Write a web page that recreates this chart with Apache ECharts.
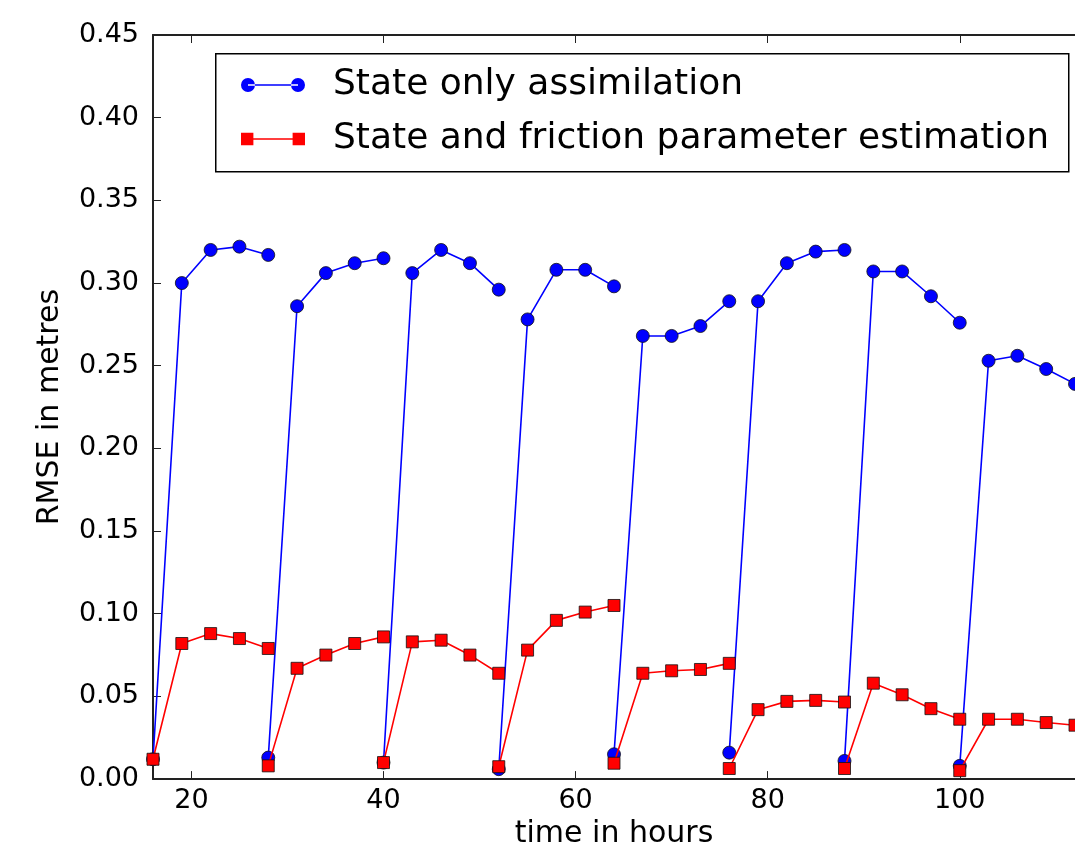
<!DOCTYPE html>
<html>
<head>
<meta charset="utf-8">
<script src="https://cdn.jsdelivr.net/npm/echarts@6/dist/echarts.min.js"></script>
<style>
html,body{margin:0;padding:0;background:#fff;}
#chart{width:1075px;height:854px;}
</style>
</head>
<body>
<div id="chart"></div>
<script>
// Time (hours) of each point; each assimilation cycle has 5 points
const hours = [
  16,19,22,25,28,
  28,31,34,37,40,
  40,43,46,49,52,
  52,55,58,61,64,
  64,67,70,73,76,
  76,79,82,85,88,
  88,91,94,97,100,
  100,103,106,109,112
];
const stateOnly = [
  0.012,0.300,0.320,0.322,0.317,
  0.013,0.286,0.306,0.312,0.315,
  0.010,0.306,0.320,0.312,0.296,
  0.006,0.278,0.308,0.308,0.298,
  0.015,0.268,0.268,0.274,0.289,
  0.016,0.289,0.312,0.319,0.320,
  0.011,0.307,0.307,0.292,0.276,
  0.008,0.253,0.256,0.248,0.239
];
const stateFriction = [
  0.012,0.082,0.088,0.085,0.079,
  0.008,0.067,0.075,0.082,0.086,
  0.010,0.083,0.084,0.075,0.064,
  0.0075,0.078,0.096,0.101,0.105,
  0.0096,0.064,0.0655,0.0663,0.070,
  0.0064,0.042,0.047,0.0476,0.0466,
  0.0064,0.058,0.051,0.0426,0.0362,
  0.0051,0.0362,0.0362,0.0342,0.0326
];
const cycleLength = 5;
const seriesNames = ['State only assimilation', 'State and friction parameter estimation'];
const xTicks = [20, 40, 60, 80, 100];
const yTicks = [0, 0.05, 0.10, 0.15, 0.20, 0.25, 0.30, 0.35, 0.40, 0.45];
const xTitle = 'time in hours';
const yTitle = 'RMSE in metres';

function withBreaks(xs, ys) {
  const out = [];
  for (let i = 0; i < xs.length; i++) {
    out.push([xs[i], ys[i]]);
    if ((i + 1) % cycleLength === 0 && i < xs.length - 1) out.push([xs[i], '-']);
  }
  return out;
}

const FONT = 'DejaVu Sans';
const chart = echarts.init(document.getElementById('chart'), null, {renderer: 'canvas'});

const circleIcon = 'path://M0,7 A7,7 0 1,0 14,7 A7,7 0 1,0 0,7 Z M7,6.2 L57,6.2 L57,7.8 L7,7.8 Z M50,7 A7,7 0 1,0 64,7 A7,7 0 1,0 50,7 Z';
const squareIcon = 'path://M1,1 L13,1 L13,13 L1,13 Z M7,6.2 L57,6.2 L57,7.8 L7,7.8 Z M51,1 L63,1 L63,13 L51,13 Z';

const option = {
  backgroundColor: '#ffffff',
  animation: false,
  grid: {left: 153, right: 0, top: 35, bottom: 72, containLabel: false},
  xAxis: [{
    type: 'value', min: 16, max: 112, position: 'bottom',
    name: xTitle, nameLocation: 'middle', nameGap: 39,
    nameTextStyle: {fontFamily: FONT, fontSize: 30, color: '#000'},
    axisLine: {show: true, lineStyle: {color: '#222', width: 2}},
    axisTick: {show: true, inside: true, length: 8, customValues: xTicks, lineStyle: {color: '#222', width: 1}},
    axisLabel: {customValues: xTicks, fontFamily: FONT, fontSize: 27, color: '#000', margin: 8},
    splitLine: {show: false}
  }, {
    type: 'value', min: 16, max: 112, position: 'top',
    axisLine: {show: true, lineStyle: {color: '#222', width: 2}},
    axisTick: {show: true, inside: true, length: 8, customValues: xTicks, lineStyle: {color: '#222', width: 1}},
    axisLabel: {show: false},
    splitLine: {show: false}
  }],
  yAxis: {
    type: 'value', min: 0, max: 0.45, interval: 0.05,
    name: yTitle, nameLocation: 'middle', nameGap: 88, nameRotate: 90,
    nameTextStyle: {fontFamily: FONT, fontSize: 30, color: '#000'},
    axisLine: {show: true, lineStyle: {color: '#222', width: 2}},
    axisTick: {show: true, inside: true, length: 8, lineStyle: {color: '#222', width: 1}},
    axisLabel: {fontFamily: FONT, fontSize: 27, color: '#000', margin: 14,
      formatter: v => v.toFixed(2)},
    splitLine: {show: false}
  },
  legend: {
    orient: 'vertical', left: 236, top: 60,
    itemWidth: 64, itemHeight: 14, itemGap: 14,
    data: [
      {name: seriesNames[0], icon: circleIcon, itemStyle: {color: '#0000ff', borderWidth: 0}},
      {name: seriesNames[1], icon: squareIcon, itemStyle: {color: '#ff0000', borderWidth: 0}}
    ],
    textStyle: {fontFamily: FONT, fontSize: 36, color: '#000', lineHeight: 40, padding: [0, 0, 0, 23]},
    selectedMode: false
  },
  graphic: [{
    type: 'rect', left: 215, top: 53, z: 0,
    shape: {width: 853, height: 118},
    style: {fill: '#fff', stroke: '#000', lineWidth: 1.5}
  }],
  series: [{
    name: seriesNames[0], type: 'line', xAxisIndex: 0,
    data: withBreaks(hours, stateOnly),
    connectNulls: false,
    symbol: 'circle', symbolSize: 13,
    lineStyle: {color: '#0000ff', width: 1.6},
    itemStyle: {color: '#0000ff', borderColor: '#111', borderWidth: 0.8},
    z: 2
  }, {
    name: seriesNames[1], type: 'line', xAxisIndex: 0,
    data: withBreaks(hours, stateFriction),
    connectNulls: false,
    symbol: 'rect', symbolSize: 12,
    lineStyle: {color: '#ff0000', width: 1.6},
    itemStyle: {color: '#ff0000', borderColor: '#111', borderWidth: 0.8},
    z: 3
  }]
};
chart.setOption(option);
</script>
</body>
</html>
